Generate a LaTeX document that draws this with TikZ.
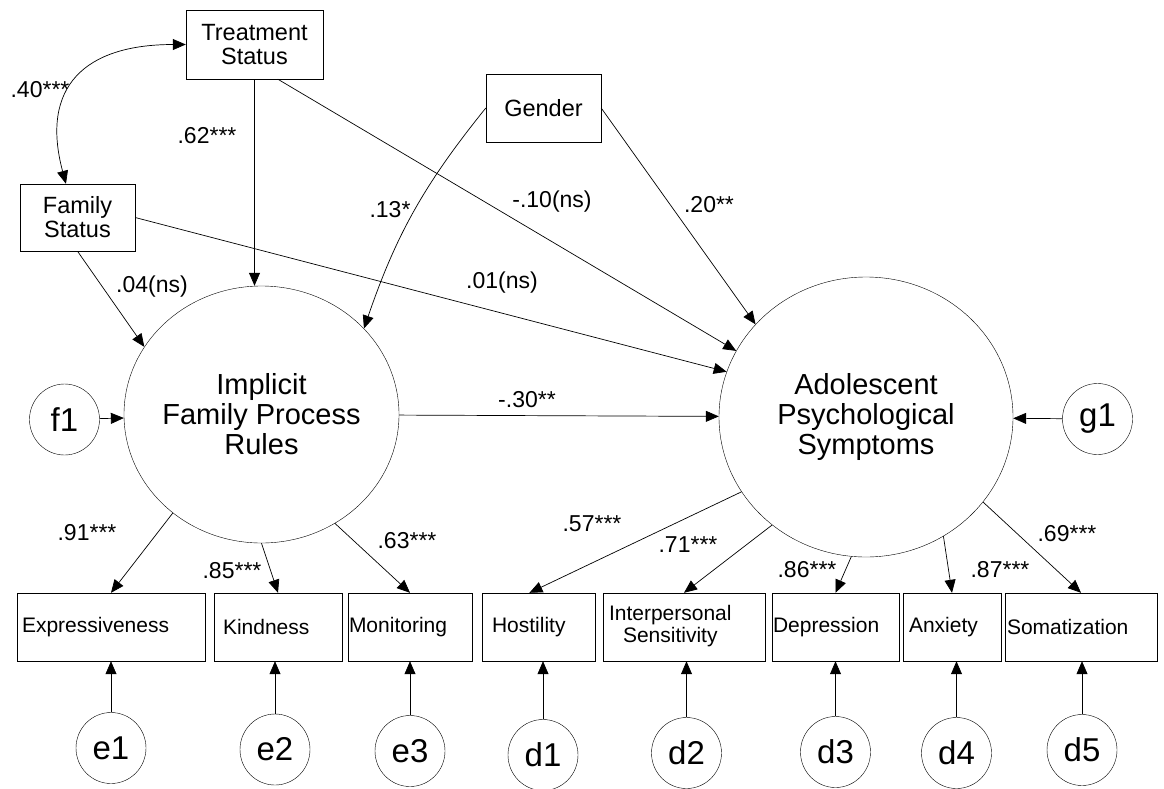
\documentclass[tikz,border=0pt]{standalone}
\usepackage{fontspec}
\setmainfont{Liberation Sans}
\usetikzlibrary{arrows.meta, shapes.geometric, calc}

\begin{document}
\begin{tikzpicture}[x=1pt, y=-1pt,
  every node/.style={font=\fontsize{23.5}{24}\selectfont},
  topbox/.style={draw, rectangle, align=center, inner sep=0pt},
  obsbox/.style={draw, rectangle, minimum height=68pt, align=left, font=\fontsize{21}{22}\selectfont},
  latent/.style={draw, ellipse, inner sep=-3pt, align=center, font=\fontsize{29}{30}\selectfont},
  errc/.style={draw, ellipse, inner sep=0pt, minimum width=70pt, minimum height=71pt, font=\fontsize{33}{33}\selectfont},
  path/.style={-{Triangle[length=13pt, width=11pt]}, line width=0.7pt},
  cov/.style={{Triangle[length=13pt, width=11pt]}-{Triangle[length=13pt, width=11pt]}, line width=0.7pt},
  coef/.style={font=\fontsize{23}{24}\selectfont, inner sep=0pt}]
\useasboundingbox (0,0) rectangle (1164,788);

% Exogenous variables
\node[topbox, minimum width=137pt, minimum height=69pt] (treat) at (254.5,44.5) {Treatment\\Status};
\node[topbox, minimum width=115pt, minimum height=67pt] (fam) at (77.5,217.5) {Family\\Status};
\node[topbox, minimum width=115pt, minimum height=68pt] (gender) at (543.5,108) {Gender};

% Latent factors and disturbances
\node[latent, minimum width=275pt, minimum height=257pt] (ifpr) at (261.5,414.5) {Implicit\\Family Process\\Rules};
\node[latent, minimum width=294pt, minimum height=280pt] (aps) at (866,417) {Adolescent\\Psychological\\Symptoms};
\node[errc] (f1) at (64.5,419.5) {f1};
\node[errc] (g1) at (1097.5,419) {g1};

% Indicators
\node[obsbox, text width=178pt, inner xsep=5pt] (expr) at (111,627) {Expressiveness};
\node[obsbox, text width=110pt, inner xsep=9pt] (kind) at (278,627) {Kindness};
\node[obsbox, text width=122pt, inner xsep=1pt] (moni) at (410,627) {Monitoring};
\node[obsbox, text width=93pt, inner xsep=10pt] (host) at (538.5,627) {Hostility};
\node[obsbox, text width=150pt, inner xsep=6pt] (inter) at (684,627) {\begin{tabular}{@{}c@{}}Interpersonal\\Sensitivity\end{tabular}};
\node[obsbox, text width=125pt, inner xsep=1pt] (depr) at (835.5,627) {Depression};
\node[obsbox, text width=86pt, inner xsep=6pt] (anx) at (952,627) {Anxiety};
\node[obsbox, text width=148pt, inner xsep=2pt] (soma) at (1081,627) {Somatization};

% Measurement errors
\node[errc] (e1) at (111,748) {e1};
\node[errc] (e2) at (275,749.5) {e2};
\node[errc] (e3) at (410,751) {e3};
\node[errc] (d1) at (543,755) {d1};
\node[errc] (d2) at (686.5,753) {d2};
\node[errc] (d3) at (835.5,752) {d3};
\node[errc] (d4) at (956.5,753) {d4};
\node[errc] (d5) at (1082,750) {d5};

% Structural paths
\draw[cov] (treat.west) to[out=180, in=105, looseness=1.4] ($(fam.north west)!0.4!(fam.north east)$);
\draw[path] (treat.south) -- (treat.south |- ifpr.north);
\draw[path] ($(treat.south west)!0.67!(treat.south east)$) -- (aps.153.4);
\draw[path] (gender.west) to[bend right=10] (ifpr.40.5);
\draw[path] (gender.east) -- (aps.140.8);
\draw[path] (fam.south) -- (ifpr.150.7);
\draw[path] (fam.east) -- (aps.162.2);
\draw[path] (ifpr) -- (aps);
\draw[path] (f1) -- (ifpr);
\draw[path] (g1) -- (aps);

% Loadings
\draw[path] (ifpr.-132.3) -- (expr.north);
\draw[path] (ifpr.-90.7) -- (kind.north);
\draw[path] (ifpr.-56.7) -- (moni.north);
\draw[path] (aps.-149.8) -- ($(host.north west)!0.42!(host.north east)$);
\draw[path] (aps.-131.6) -- (inter.north);
\draw[path] (aps.-96.1) -- (depr.north);
\draw[path] (aps.-57.2) -- (anx.north);
\draw[path] (aps.-36.7) -- (soma.north);

% Errors to indicators
\draw[path] (e1) -- (e1 |- expr.south);
\draw[path] (e2) -- (e2 |- kind.south);
\draw[path] (e3) -- (e3 |- moni.south);
\draw[path] (d1) -- (d1 |- host.south);
\draw[path] (d2) -- (d2 |- inter.south);
\draw[path] (d3) -- (d3 |- depr.south);
\draw[path] (d4) -- (d4 |- anx.south);
\draw[path] (d5) -- (d5 |- soma.south);

% Coefficients
\node[coef] (c40) at (40,90) {.40***};
\node[coef] (c62) at (207,136) {.62***};
\node[coef] (c13) at (390,210) {.13*};
\node[coef] (c10) at (552,202) {-.10(ns)};
\node[coef] (c20) at (709,205) {.20**};
\node[coef] (c04) at (152,287) {.04(ns)};
\node[coef] (c01) at (502,283) {.01(ns)};
\node[coef] (c30) at (527,400) {-.30**};
\node[coef] (c91) at (87,533) {.91***};
\node[coef] (c85) at (232,571) {.85***};
\node[coef] (c63) at (407,541) {.63***};
\node[coef] (c57) at (592,524) {.57***};
\node[coef] (c71) at (688,545) {.71***};
\node[coef] (c86) at (807,570) {.86***};
\node[coef] (c87) at (1000,570) {.87***};
\node[coef] (c69) at (1067,534) {.69***};
\end{tikzpicture}
\end{document}
